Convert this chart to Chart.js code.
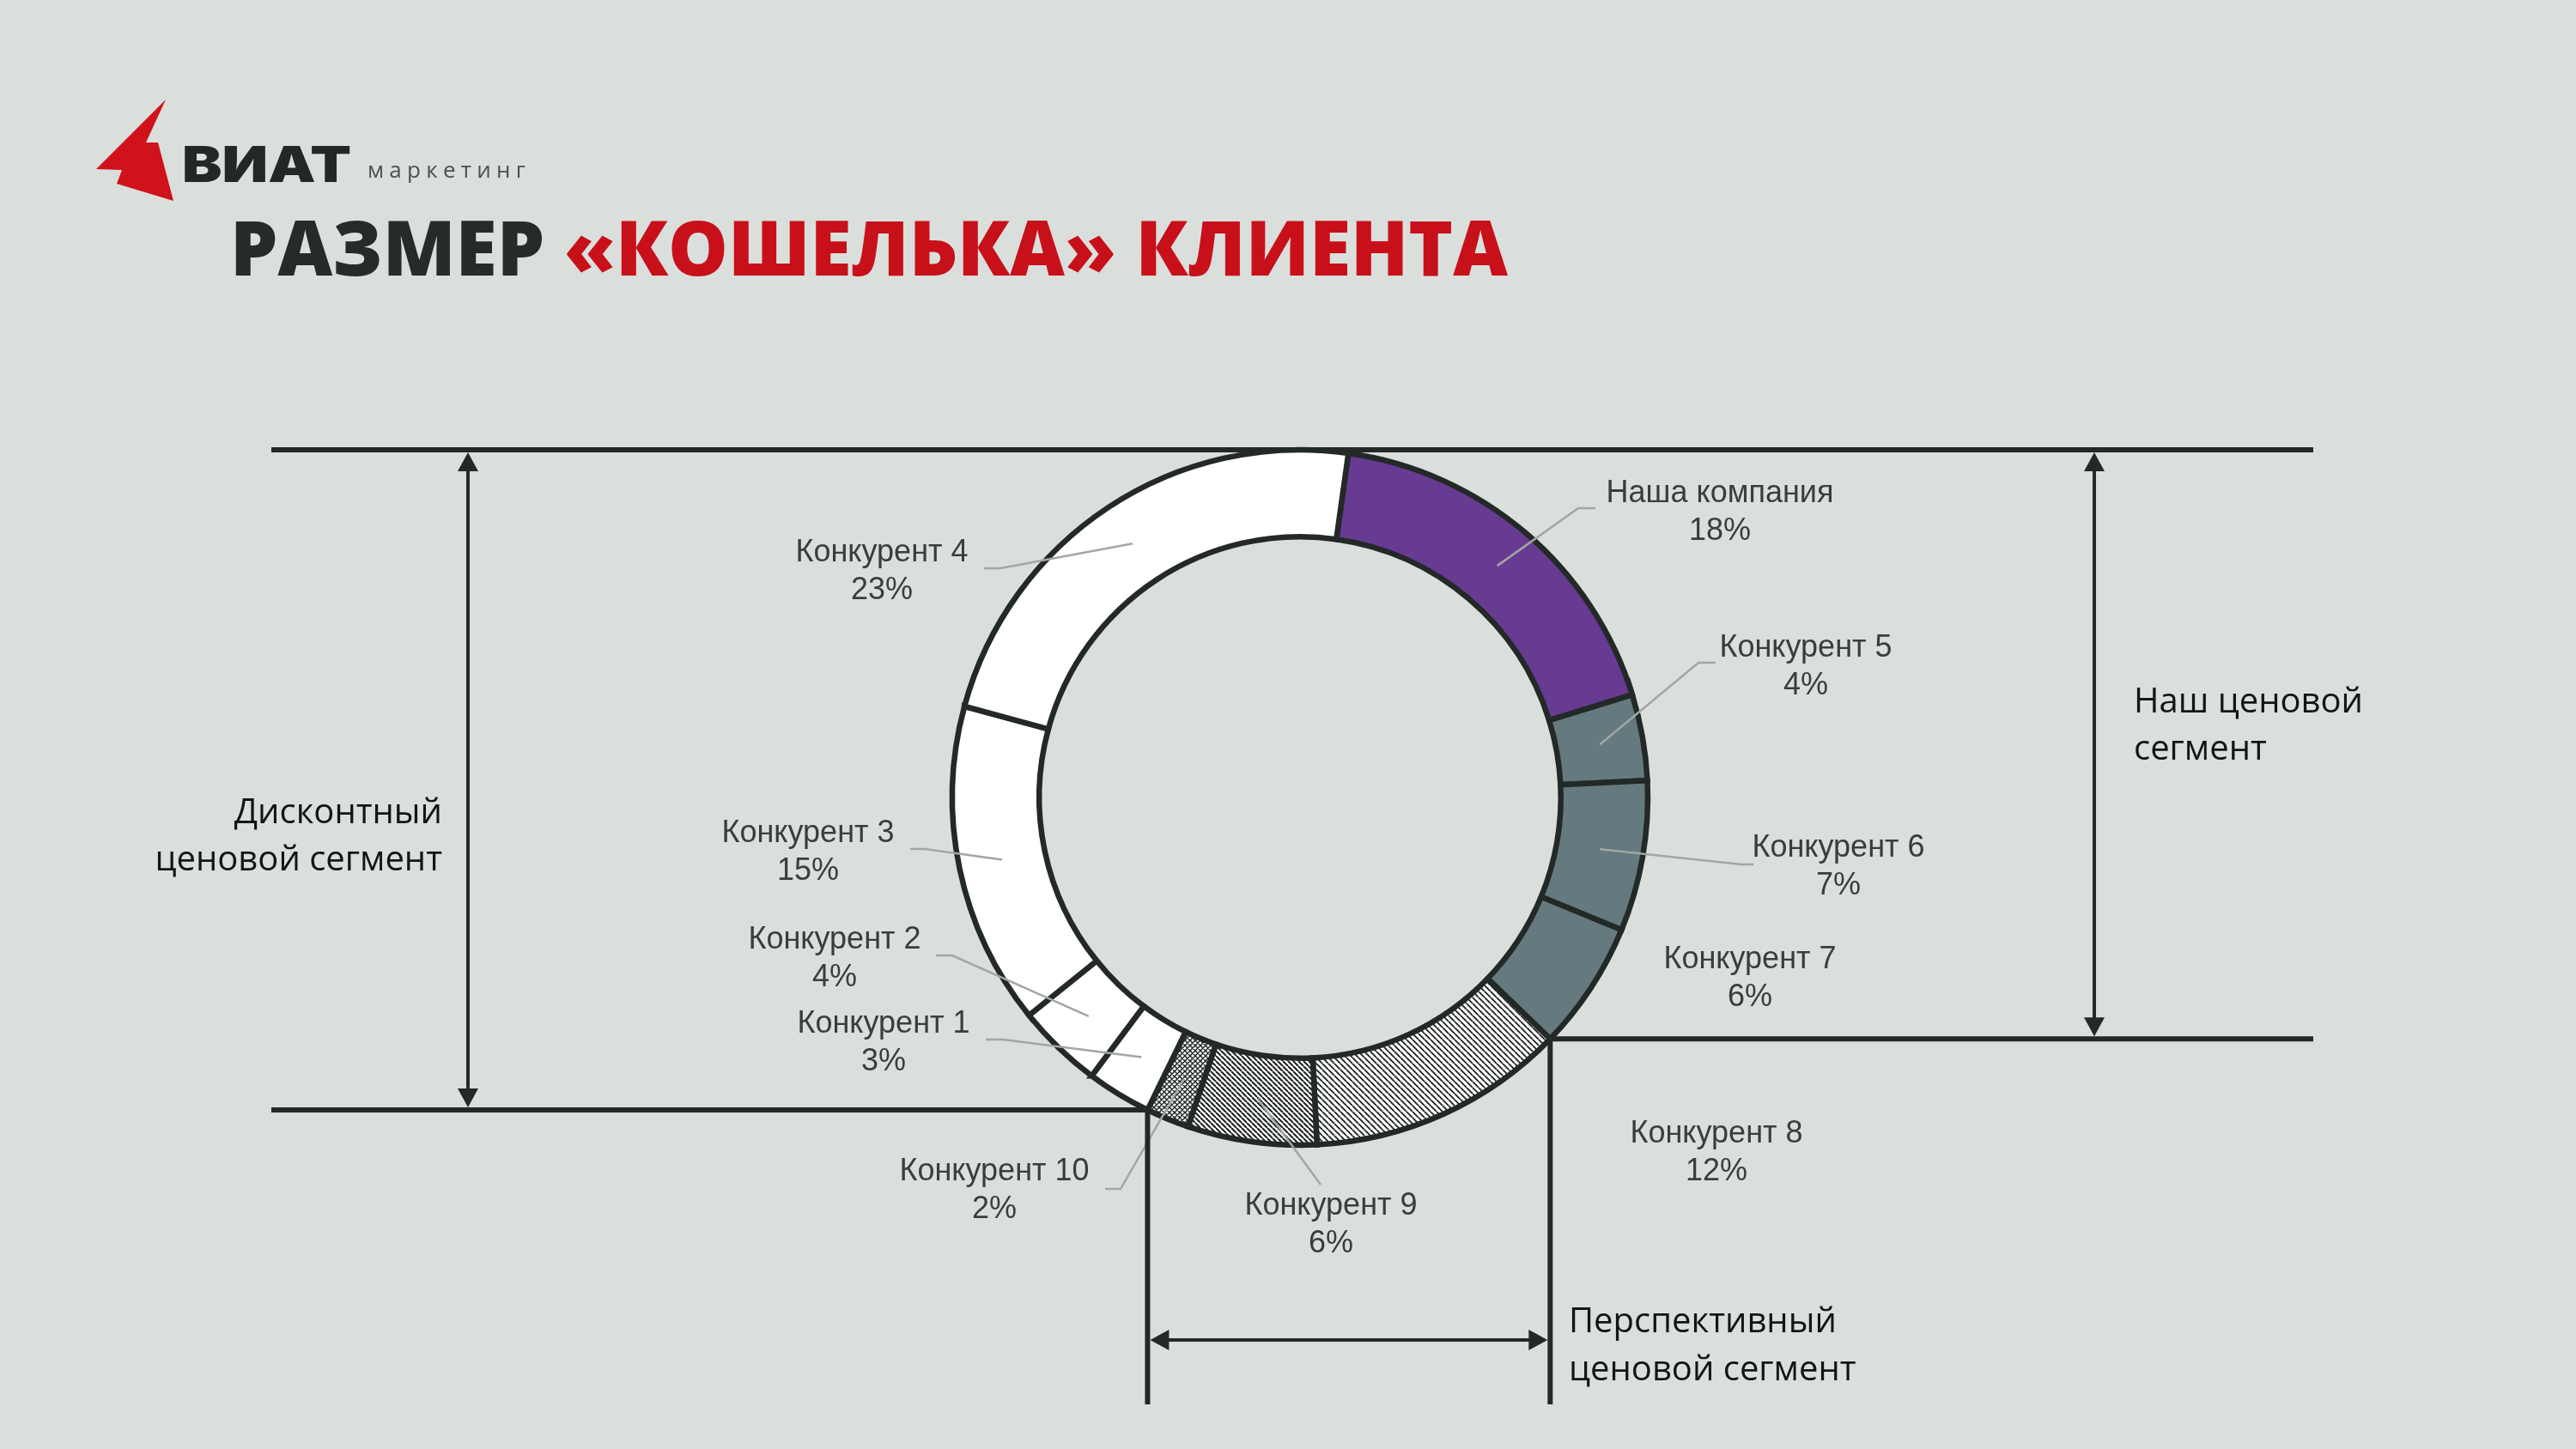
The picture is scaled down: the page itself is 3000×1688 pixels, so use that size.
<!DOCTYPE html>
<html lang="ru">
<head>
<meta charset="UTF-8">
<title>Размер «кошелька» клиента</title>
<script src="https://cdn.jsdelivr.net/npm/chart.js"></script>
<style>
  html, body { margin: 0; padding: 0; background: #dadfdc; overflow: hidden; }
  #page { position: relative; width: 3000px; height: 1688px; }
  #walletChart { position: absolute; left: 0; top: 0; }
  #overlay { position: absolute; left: 0; top: 0; pointer-events: none; }
</style>
</head>
<body>
<div id="page">
  <canvas id="walletChart" width="3000" height="1688"></canvas>
  <svg id="overlay" width="3000" height="1688">
    <!-- logo -->
    <polygon points="193,116 170,166 184,166 202,234 136,214 142,198 112,197" fill="#d0121b"/>
    <text x="212" y="212" font-family="Inter" font-weight="900" font-size="58" fill="#222827"
          textLength="197" lengthAdjust="spacingAndGlyphs">ВИАТ</text>
    <text x="428" y="207" font-family="Open Sans" font-size="26" fill="#4b504f"
          textLength="184" lengthAdjust="spacing">маркетинг</text>
    <!-- title -->
    <text x="268" y="321" font-family="Open Sans" font-weight="800" font-size="88"
          textLength="1488" lengthAdjust="spacingAndGlyphs"><tspan fill="#262b2a">РАЗМЕР </tspan><tspan fill="#c8101a">«КОШЕЛЬКА» КЛИЕНТА</tspan></text>
    <!-- segment captions -->
    <g font-family="Open Sans" font-size="40" fill="#121514">
      <text x="515" y="959" text-anchor="end">Дисконтный</text>
      <text x="515" y="1014" text-anchor="end">ценовой сегмент</text>
      <text x="2485" y="830">Наш ценовой</text>
      <text x="2485" y="885">сегмент</text>
      <text x="1827" y="1552">Перспективный</text>
      <text x="1827" y="1608">ценовой сегмент</text>
    </g>
  </svg>
</div>
<script>
    // data
    const segmentNames = ['Наша компания', 'Конкурент 5', 'Конкурент 6', 'Конкурент 7', 'Конкурент 8',
        'Конкурент 9', 'Конкурент 10', 'Конкурент 1', 'Конкурент 2', 'Конкурент 3', 'Конкурент 4'];
    const shareValues = [18, 4, 7, 6, 12, 6, 2, 3, 4, 15, 23];

    // where each label sits and how its leader line bends (layout only)
    const labelSpots = [
        { x: 2003, y: 575, leader: [[1838, 592], [1858, 592]] },
        { x: 2103, y: 755, leader: [[1978, 772], [1998, 772]] },
        { x: 2141, y: 988, leader: [[2028, 1007], [2042, 1007]] },
        { x: 2038, y: 1118, leader: null },
        { x: 1999, y: 1321, leader: null },
        { x: 1550, y: 1405, leader: [[1538, 1380]] },
        { x: 1158, y: 1365, leader: [[1305, 1385], [1287, 1385]] },
        { x: 1029, y: 1193, leader: [[1168, 1211], [1148, 1211]] },
        { x: 972, y: 1095, leader: [[1109, 1113], [1090, 1113]] },
        { x: 941, y: 971, leader: [[1077, 989], [1060, 989]] },
        { x: 1027, y: 644, leader: [[1165, 662], [1146, 662]] }
    ];

    const LINE = '#232927';

    function hatch(step, width, cross) {
        const c = document.createElement('canvas');
        c.width = step; c.height = step;
        const g = c.getContext('2d');
        g.fillStyle = '#ffffff';
        g.fillRect(0, 0, step, step);
        g.strokeStyle = '#1c2120';
        g.lineWidth = width;
        g.beginPath();
        for (let k = -1; k <= 1; k++) {
            g.moveTo(k * step, 0); g.lineTo(k * step + step, step);
            if (cross) { g.moveTo(k * step + step, 0); g.lineTo(k * step, step); }
        }
        g.stroke();
        return g.createPattern(c, 'repeat');
    }

    const purple = '#673b92', slate = '#647a7e', white = '#ffffff';
    const fills = [purple, slate, slate, slate, hatch(7, 1.8, false), hatch(6, 2.0, false),
        hatch(6, 1.4, true), white, white, white, white];

    // segment labels + grey leader lines
    const labelPlugin = {
        id: 'segmentLabels',
        afterDatasetsDraw(chart) {
            const ctx = chart.ctx;
            const arcs = chart.getDatasetMeta(0).data;
            ctx.save();
            ctx.strokeStyle = '#a2a6a4';
            ctx.lineWidth = 2.5;
            arcs.forEach((arc, i) => {
                const spot = labelSpots[i];
                if (!spot.leader) return;
                const c = arc.getCenterPoint();
                ctx.beginPath();
                ctx.moveTo(c.x, c.y);
                spot.leader.forEach(p => ctx.lineTo(p[0], p[1]));
                ctx.stroke();
            });
            ctx.fillStyle = '#3a3d3c';
            ctx.font = '36px "Liberation Sans", Arial, sans-serif';
            ctx.textAlign = 'center';
            ctx.textBaseline = 'middle';
            segmentNames.forEach((name, i) => {
                const spot = labelSpots[i];
                ctx.fillText(name, spot.x, spot.y);
                ctx.fillText(shareValues[i] + '%', spot.x, spot.y + 44);
            });
            ctx.restore();
        }
    };

    function arrowHead(ctx, x, y, dir) {
        // dir: 'up' | 'down' | 'left' | 'right', tip at (x, y)
        const L = 22, W = 12;
        ctx.beginPath();
        if (dir === 'up') { ctx.moveTo(x, y); ctx.lineTo(x - W, y + L); ctx.lineTo(x + W, y + L); }
        if (dir === 'down') { ctx.moveTo(x, y); ctx.lineTo(x - W, y - L); ctx.lineTo(x + W, y - L); }
        if (dir === 'left') { ctx.moveTo(x, y); ctx.lineTo(x + L, y - W); ctx.lineTo(x + L, y + W); }
        if (dir === 'right') { ctx.moveTo(x, y); ctx.lineTo(x - L, y - W); ctx.lineTo(x - L, y + W); }
        ctx.closePath();
        ctx.fill();
    }

    // price segment brackets, anchored on the ring's boundaries
    const bracketPlugin = {
        id: 'segmentBrackets',
        afterDraw(chart) {
            const ctx = chart.ctx;
            const arcs = chart.getDatasetMeta(0).data;
            const cx = arcs[0].x, cy = arcs[0].y, R = arcs[0].outerRadius;
            const onRing = a => ({ x: cx + Math.cos(a) * R, y: cy + Math.sin(a) * R });
            const lowLeft = onRing(arcs[segmentNames.indexOf('Конкурент 1')].startAngle);
            const lowRight = onRing(arcs[segmentNames.indexOf('Конкурент 8')].startAngle);
            const topY = cy - R;
            const xL = 316, xR = 2694, yEnd = 1636;

            ctx.save();
            ctx.strokeStyle = LINE;
            ctx.fillStyle = LINE;
            ctx.lineJoin = 'miter';
            ctx.lineWidth = 6;
            ctx.beginPath();
            ctx.moveTo(xL, topY); ctx.lineTo(xR, topY);
            ctx.moveTo(xL, lowLeft.y); ctx.lineTo(lowLeft.x, lowLeft.y); ctx.lineTo(lowLeft.x, yEnd);
            ctx.moveTo(xR, lowRight.y); ctx.lineTo(lowRight.x, lowRight.y); ctx.lineTo(lowRight.x, yEnd);
            ctx.stroke();

            ctx.lineWidth = 4;
            const ax = 545, bx = 2439, by = 1561;
            ctx.beginPath();
            ctx.moveTo(ax, topY + 10); ctx.lineTo(ax, lowLeft.y - 10);
            ctx.moveTo(bx, topY + 10); ctx.lineTo(bx, lowRight.y - 10);
            ctx.moveTo(lowLeft.x + 10, by); ctx.lineTo(lowRight.x - 10, by);
            ctx.stroke();
            arrowHead(ctx, ax, topY + 3, 'up');
            arrowHead(ctx, ax, lowLeft.y - 3, 'down');
            arrowHead(ctx, bx, topY + 3, 'up');
            arrowHead(ctx, bx, lowRight.y - 3, 'down');
            arrowHead(ctx, lowLeft.x + 3, by, 'left');
            arrowHead(ctx, lowRight.x - 3, by, 'right');
            ctx.restore();
        }
    };

    new Chart(document.getElementById('walletChart'), {
        type: 'doughnut',
        data: {
            labels: segmentNames,
            datasets: [{
                data: shareValues,
                backgroundColor: fills,
                borderColor: LINE,
                borderWidth: 6.5,
                borderJoinStyle: 'miter'
            }]
        },
        options: {
            responsive: false,
            animation: false,
            events: [],
            rotation: 8,
            radius: 405,
            cutout: '75%',
            layout: { padding: { left: 28, top: 170, right: 0, bottom: 0 } },
            plugins: {
                legend: { display: false },
                tooltip: { enabled: false }
            }
        },
        plugins: [labelPlugin, bracketPlugin]
    });
</script>
</body>
</html>
